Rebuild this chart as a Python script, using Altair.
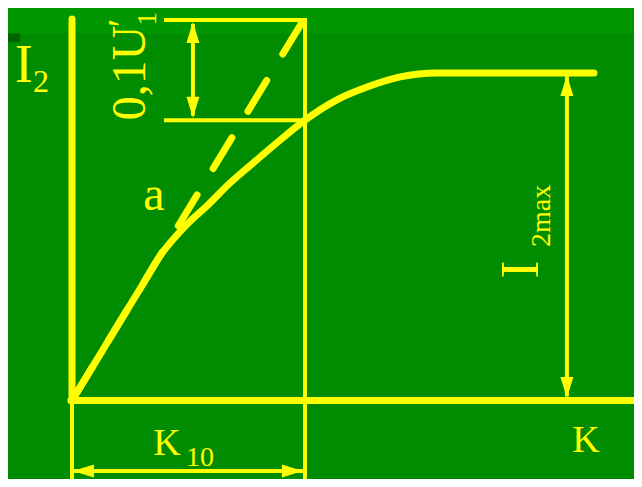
import altair as alt
import pandas as pd

# ---------------- data (schematic units: K in units of K10, I2 in units of I2max) -------------
curve_K = [0.0, 0.090, 0.176, 0.292, 0.385, 0.440, 0.500, 0.579, 0.678, 0.777, 0.893, 1.0,
           1.137, 1.266, 1.408, 1.567, 1.665, 2.24]
curve_I = [0.0, 0.105, 0.206, 0.341, 0.449, 0.497, 0.543, 0.594, 0.664, 0.725, 0.795, 0.856,
           0.918, 0.957, 0.988, 1.0, 1.0, 1.0]

tangent_K = [0.985, 0.0]      # dashed tangent line "a" (drawn from the top)
tangent_I = [1.152, 0.0]

K10 = 1.0
I2max = 1.0
tangent_top = 1.162           # level of tangent at K10
curve_at_K10 = 0.856          # level of curve at K10

labels = ["I", "2", "a", "K", "10", "K"]
label_K = [-0.206, -0.133, 0.352, 0.408, 0.549, 2.206]
label_I = [0.973, 0.942, 0.582, -0.166, -0.200, -0.157]
label_size = [54, 32, 48, 38, 28, 38]

rot_labels = ["0,1U", "\u2032", "1", "I", "2max"]
rot_K = [0.313, 0.270, 0.361, 2.000, 2.052]
rot_I = [0.856, 1.140, 1.166, 0.400, 0.469]
rot_size = [48, 40, 28, 54, 28]
rot_align = ["left", "left", "center", "center", "left"]

# ---------------- view ----------------
XMIN, XMAX = -0.2747, 2.412
YMIN, YMAX = -0.2397, 1.1985
YELLOW = "#FFFF00"
GREEN = "#008C00"

xs = alt.Scale(domain=[XMIN, XMAX], nice=False, zero=False)
ys = alt.Scale(domain=[YMIN, YMAX], nice=False, zero=False)
X = lambda f: alt.X(f, type="quantitative", scale=xs, axis=None)
Y = lambda f: alt.Y(f, type="quantitative", scale=ys, axis=None)

# background bands
bands = pd.DataFrame({
    "x": [XMIN, XMIN], "x2": [XMAX, -0.223],
    "y": [1.1206, 1.0947], "y2": [YMAX, 1.1206],
    "c": ["#009600", "#006400"],
})
band_layer = alt.Chart(bands).mark_rect().encode(
    x=X("x"), x2="x2", y=Y("y"), y2="y2",
    color=alt.Color("c:N", scale=None),
)

# thin construction lines and arrow shafts
thin = pd.DataFrame({
    "x":  [K10, 0.0, 0.395, 0.395, 0.519, 0.004, 2.124],
    "x2": [K10, 0.0, K10, K10, 0.519, 0.991, 2.124],
    "y":  [1.168, 0.0, tangent_top, curve_at_K10, 1.150, -0.215, 0.990],
    "y2": [YMIN, YMIN, tangent_top, curve_at_K10, 0.870, -0.215, 0.012],
})
thin_layer = alt.Chart(thin).mark_rule(color=YELLOW, strokeWidth=4).encode(
    x=X("x"), x2="x2", y=Y("y"), y2="y2"
)

# thick axes
axes = pd.DataFrame({
    "x": [0.0, -0.005], "x2": [0.0, XMAX + 0.1],
    "y": [0.0, 0.0], "y2": [1.165, 0.0],
})
axes_layer = alt.Chart(axes).mark_rule(color=YELLOW, strokeWidth=7, strokeCap="round").encode(
    x=X("x"), x2="x2", y=Y("y"), y2="y2"
)

# arrowheads (tip at the data point)
heads = pd.DataFrame({
    "x": [0.519, 0.519, 0.004, 0.991, 2.124, 2.124],
    "y": [1.156, 0.863, -0.215, -0.215, 0.994, 0.008],
    "shape": ["up", "down", "left", "right", "up", "down"],
})
paths = {
    "up": "M0,0L-0.62,2L0.62,2Z",
    "down": "M0,0L-0.62,-2L0.62,-2Z",
    "left": "M0,0L2,-0.62L2,0.62Z",
    "right": "M0,0L-2,-0.62L-2,0.62Z",
}
head_layers = [
    alt.Chart(heads[heads["shape"] == k]).mark_point(
        shape=p, filled=True, color=YELLOW, size=441, opacity=1, strokeWidth=0
    ).encode(x=X("x"), y=Y("y"))
    for k, p in paths.items()
]

# the curve I2(K)
curve = pd.DataFrame({"K": curve_K, "I": curve_I})
curve_layer = alt.Chart(curve).mark_line(
    color=YELLOW, strokeWidth=7, strokeCap="round", strokeJoin="round", interpolate="monotone"
).encode(x=X("K"), y=Y("I"))

# dashed tangent
tang = pd.DataFrame({"K": tangent_K, "I": tangent_I, "seq": [0, 1]})
tang_layer = alt.Chart(tang).mark_line(
    color=YELLOW, strokeWidth=7, strokeCap="round", strokeDash=[36, 31]
).encode(x=X("K"), y=Y("I"), order="seq:Q")

# labels
lab = pd.DataFrame({"t": labels, "x": label_K, "y": label_I, "s": label_size})
lab_layer = alt.Chart(lab).mark_text(
    color=YELLOW, font="Liberation Serif", align="center", baseline="alphabetic"
).encode(x=X("x"), y=Y("y"), text="t:N", size=alt.Size("s:Q", scale=None))

rot = pd.DataFrame({"t": rot_labels, "x": rot_K, "y": rot_I, "s": rot_size, "a": rot_align})
rot_layers = [
    alt.Chart(rot[rot["a"] == a]).mark_text(
        color=YELLOW, font="Liberation Serif", align=a, baseline="alphabetic", angle=270
    ).encode(x=X("x"), y=Y("y"), text="t:N", size=alt.Size("s:Q", scale=None))
    for a in ["left", "center"]
]

chart = alt.layer(
    band_layer, thin_layer, tang_layer, curve_layer, axes_layer, *head_layers, lab_layer, *rot_layers
).properties(
    width=626, height=471, autosize="none", padding=0, background=GREEN
).configure_view(strokeWidth=0, fill=GREEN)

chart.save("out.html", embed_options={"renderer": "svg", "actions": False})
